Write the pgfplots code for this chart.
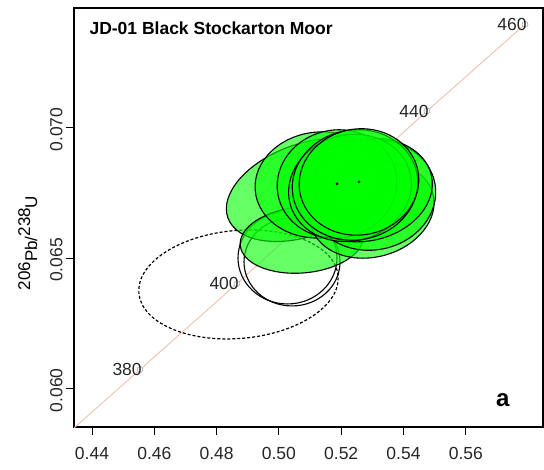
\documentclass[border=0pt]{standalone}
\usepackage{pgfplots}
\pgfplotsset{compat=1.18}
\usepackage{pgfplotstable}
\usepackage{fontspec}
\setmainfont{Liberation Sans}

\definecolor{ellgreen}{RGB}{0,255,0}
\definecolor{concord}{RGB}{238,192,175}

% error ellipse drawn as a plot mark: semi-axes \ea and \eb (bp), tilt \eang (deg)
\pgfdeclareplotmark{errell}{%
  \pgfmathsetmacro\eangb{\eang+90}%
  \pgfpathellipse{\pgfpointorigin}{\pgfpointpolar{\eang}{\ea bp}}{\pgfpointpolar{\eangb}{\eb bp}}%
  \pgfusepathqfillstroke}
\pgfdeclareplotmark{errello}{%
  \pgfmathsetmacro\eangb{\eang+90}%
  \pgfpathellipse{\pgfpointorigin}{\pgfpointpolar{\eang}{\ea bp}}{\pgfpointpolar{\eangb}{\eb bp}}%
  \pgfusepathqstroke}

% concordia curve
\pgfplotstableread{
x y
0.43350 0.058399
0.45541 0.060719
0.48655 0.064016
0.51680 0.067322
0.54754 0.070638
0.57900 0.073965
}\concordia

% age markers on the concordia (Ma)
\pgfplotstableread{
x y lab
0.45541 0.060719 380
0.48655 0.064016 400
0.51680 0.067322 420
0.54754 0.070638 440
0.57900 0.073965 460
}\agemarks

% rejected analyses (dashed / open)
\pgfplotstableread{
x y a b ang
0.48703 0.063985 100 54 5
}\dashedell
\pgfplotstableread{
x y a b ang
0.50276 0.065001 49.5 46 0
0.50421 0.064848 48 44 0
}\openell

% accepted analyses
\pgfplotstableread{
x y a b ang
0.50838 0.067610 82 46 20
0.50742 0.065692 62 33 5
0.51319 0.067802 65 53 5
0.52989 0.066843 63 47 15
0.52989 0.067418 64 55 10
0.52764 0.067610 68 51 12
0.51865 0.067840 60 54 10
0.52283 0.067687 62 53 15
0.52443 0.067802 63 55 10
0.52571 0.067917 60 53 10
}\greenell

\pgfplotstableread{
x y
0.51865 0.067840
0.52571 0.067917
}\centres

\begin{document}
\begin{tikzpicture}
\useasboundingbox (0,0) rectangle (544bp,470bp);
\begin{axis}[
  at={(74bp,43bp)}, anchor=south west,
  scale only axis, width=469bp, height=419bp,
  xmin=0.434222, xmax=0.584783, ymin=0.058515, ymax=0.074592,
  xtick={0.44,0.46,0.48,0.50,0.52,0.54,0.56},
  ytick={0.060,0.065,0.070},
  scaled ticks=false,
  tick pos=left, tick align=outside, major tick length=8bp,
  every tick/.style={black, line width=0.9bp},
  axis line style={line width=1.1bp},
  tick label style={font=\fontsize{17.5bp}{20bp}\selectfont, text=black!85},
  x tick label style={yshift=-9bp, /pgf/number format/.cd, fixed, fixed zerofill, precision=2, assume math mode=true},
  y tick label style={rotate=90, anchor=south, xshift=-2bp, /pgf/number format/.cd, fixed, fixed zerofill, precision=3, assume math mode=true},
]
\addplot[concord, line width=0.9bp] table {\concordia};
\addplot[only marks, mark=*, mark size=3bp,
  mark options={fill=white, draw=gray!70, line width=0.6bp},
  nodes near coords, point meta=explicit symbolic,
  nodes near coords style={anchor=east, inner sep=0pt, xshift=2bp,
    font=\fontsize{17.5bp}{20bp}\selectfont, text=black!85}]
  table[meta=lab] {\agemarks};

\addplot[scatter, only marks, mark=errello,
  scatter/use mapped color={draw=black},
  mark options={line width=1.2bp, dash pattern=on 3bp off 2bp},
  visualization depends on={\thisrow{a}\as\ea},
  visualization depends on={\thisrow{b}\as\eb},
  visualization depends on={\thisrow{ang}\as\eang}]
  table {\dashedell};
\addplot[scatter, only marks, mark=errello,
  scatter/use mapped color={draw=black},
  mark options={line width=1.1bp},
  visualization depends on={\thisrow{a}\as\ea},
  visualization depends on={\thisrow{b}\as\eb},
  visualization depends on={\thisrow{ang}\as\eang}]
  table {\openell};
\addplot[scatter, only marks, mark=errell,
  scatter/use mapped color={draw=black, fill=ellgreen},
  mark options={line width=1.1bp, fill opacity=0.6},
  visualization depends on={\thisrow{a}\as\ea},
  visualization depends on={\thisrow{b}\as\eb},
  visualization depends on={\thisrow{ang}\as\eang}]
  table {\greenell};
\addplot[only marks, mark=*, mark size=1.2bp, black] table {\centres};

\node[anchor=base west, font=\bfseries\fontsize{17.5bp}{20bp}\selectfont]
  at (rel axis cs:0.0256,0.9356) {JD-01 Black Stockarton Moor};
\node[anchor=base east, font=\bfseries\fontsize{24bp}{26bp}\selectfont]
  at (rel axis cs:0.936,0.05) {a};
\end{axis}
\node[rotate=90, anchor=base, font=\fontsize{17bp}{20bp}\selectfont]
  at (30bp,227bp) {206\raisebox{-7bp}{Pb/}238\raisebox{-7bp}{U}};
\end{tikzpicture}
\end{document}
